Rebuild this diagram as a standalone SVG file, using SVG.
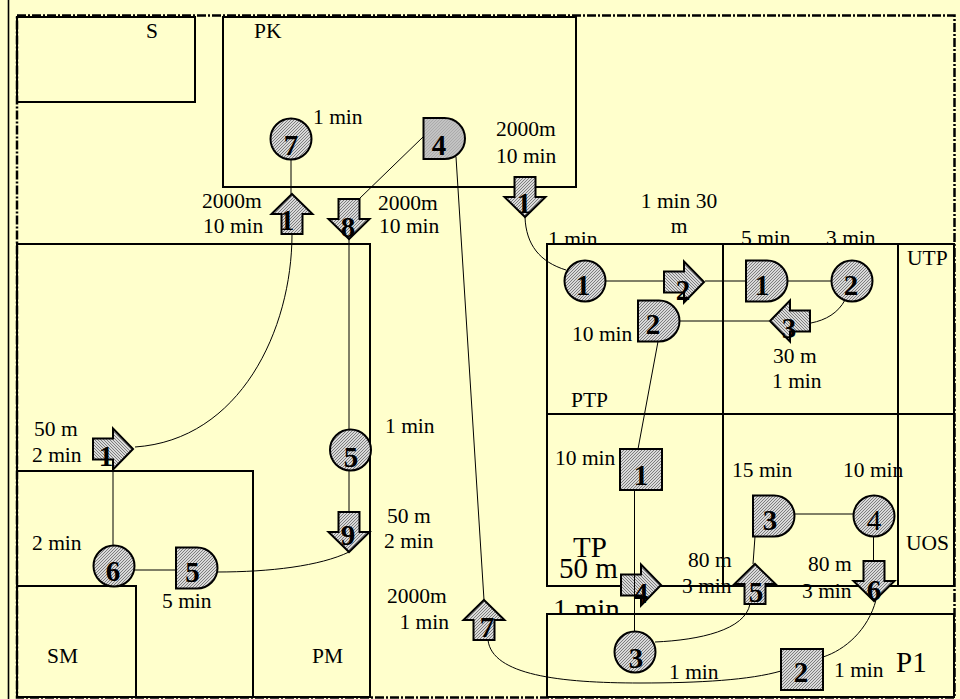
<svg xmlns="http://www.w3.org/2000/svg" width="960" height="699" viewBox="0 0 960 699">
<style>
.room{fill:#FFFFCC;stroke:#000;stroke-width:2}
.lbl{font-family:"Liberation Serif","Times New Roman",serif;font-size:21.5px;fill:#000}
.big{font-size:29px}
.mid{text-anchor:middle}
.end{text-anchor:end}
.num{font-family:"Liberation Serif","Times New Roman",serif;font-size:29px;font-weight:bold;text-anchor:middle;fill:#000}
.reg{font-weight:normal}
.shape{fill:url(#hatch);stroke:#000;stroke-width:2}
.conn path{fill:none;stroke:#000;stroke-width:1}
</style>
<defs>
<pattern id="hatch" width="3" height="3" patternUnits="userSpaceOnUse">
<rect width="3" height="3" fill="#d9d9d9"/>
<path d="M-1,1 L1,-1 M0,3 L3,0 M2,4 L4,2" stroke="#555" stroke-width="0.7"/>
</pattern>
<path id="arrow" d="M0,-20 L20.5,0 L10.5,0 L10.5,20 L-10.5,20 L-10.5,0 L-20.5,0 Z"/>
<path id="delay" d="M-21,-20.5 H0 A20.5,20.5 0 0 1 0,20.5 H-21 Z"/>
</defs>

<rect width="960" height="699" fill="#FFFFCC"/>
<line x1="8.5" y1="0" x2="8.5" y2="699" stroke="#000" stroke-width="1.6"/>

<g id="rooms">
<rect class="room" x="17" y="17" width="178" height="85"/>
<rect class="room" x="223" y="17" width="353" height="170"/>
<rect class="room" x="17" y="244" width="353" height="453"/>
<rect class="room" x="17" y="471" width="236" height="226"/>
<rect class="room" x="17" y="586" width="119" height="111"/>
<rect class="room" x="547" y="414" width="176" height="172"/>
<rect class="room" x="723" y="414" width="175" height="172"/>
<rect class="room" x="898" y="414" width="56" height="172"/>
</g>

<g id="hidden-labels" class="lbl">
<text x="548" y="246">1 min</text>
<text x="741" y="245">5 min</text>
<text x="826" y="245">3 min</text>
<text class="big" x="573" y="557">TP</text>
<text class="big" x="559" y="578">50 m</text>
<text class="big" x="553" y="619">1 min</text>
</g>

<g id="rooms-front">
<rect class="room" x="547" y="244" width="176" height="170"/>
<rect class="room" x="723" y="244" width="175" height="170"/>
<rect class="room" x="898" y="244" width="56" height="170"/>
<rect class="room" x="547" y="614" width="407" height="83"/>
</g>

<rect x="17" y="15.5" width="937.5" height="682" fill="none" stroke="#000" stroke-width="2.5" stroke-dasharray="9 2 2 2"/>

<g id="nodes">
<g id="c7"><circle class="shape" cx="291" cy="139" r="20.5"/><text class="num" x="291" y="155">7</text></g>
<g id="d4"><use href="#delay" class="shape" transform="translate(444.5,138.5)"/><text class="num" x="439" y="155">4</text></g>
<g id="a1up"><use href="#arrow" class="shape" transform="translate(292,214)"/><text class="num" x="287" y="230">1</text></g>
<g id="a8"><use href="#arrow" class="shape" transform="translate(349,219) rotate(180)"/><text class="num" x="348" y="237">8</text></g>
<g id="a1down"><use href="#arrow" class="shape" transform="translate(525,197) rotate(180)"/><text class="num" x="524" y="213">1</text></g>
<g id="c1"><circle class="shape" cx="585" cy="281" r="20.5"/><text class="num" x="583" y="295">1</text></g>
<g id="a2"><use href="#arrow" class="shape" transform="translate(684,282) rotate(90)"/><text class="num" x="683" y="300">2</text></g>
<g id="d1"><use href="#delay" class="shape" transform="translate(767,281)"/><text class="num" x="762" y="295">1</text></g>
<g id="c2"><circle class="shape" cx="852" cy="281" r="20.5"/><text class="num" x="851" y="295">2</text></g>
<g id="a3"><use href="#arrow" class="shape" transform="translate(790,321) rotate(-90)"/><text class="num" x="789" y="338">3</text></g>
<g id="d2"><use href="#delay" class="shape" transform="translate(659,321)"/><text class="num" x="653" y="334">2</text></g>
<g id="s1"><rect class="shape" x="620" y="449" width="42" height="41"/><text class="num" x="641" y="485">1</text></g>
<g id="a1right"><use href="#arrow" class="shape" transform="translate(113,449) rotate(90)"/><text class="num" x="106" y="466">1</text></g>
<g id="c5"><circle class="shape" cx="350.5" cy="450" r="20.5"/><text class="num" x="351" y="467">5</text></g>
<g id="a9"><use href="#arrow" class="shape" transform="translate(349,532) rotate(180)"/><text class="num" x="348" y="545">9</text></g>
<g id="c6"><circle class="shape" cx="114" cy="566" r="20.5"/><text class="num" x="113" y="581">6</text></g>
<g id="d5"><use href="#delay" class="shape" transform="translate(197,568)"/><text class="num" x="192.5" y="582">5</text></g>
<g id="a7"><use href="#arrow" class="shape" transform="translate(484,620)"/><text class="num" x="487" y="637">7</text></g>
<g id="a4"><use href="#arrow" class="shape" transform="translate(641,585) rotate(90)"/><text class="num" x="641" y="603">4</text></g>
<g id="c3"><circle class="shape" cx="635" cy="652" r="20.5"/><text class="num" x="636" y="668">3</text></g>
<g id="a5"><use href="#arrow" class="shape" transform="translate(755,584)"/><text class="num" x="756" y="602">5</text></g>
<g id="d3"><use href="#delay" class="shape" transform="translate(774,516)"/><text class="num" x="770" y="530">3</text></g>
<g id="c4"><circle class="shape" cx="874" cy="516" r="20.5"/><text class="num reg" x="874" y="530">4</text></g>
<g id="a6"><use href="#arrow" class="shape" transform="translate(874,581) rotate(180)"/><text class="num" x="874" y="600">6</text></g>
<g id="s2"><rect class="shape" x="781" y="649" width="42" height="41"/><text class="num" x="801" y="682">2</text></g>
</g>

<g id="connectors" class="conn">
<path d="M291,159.5 V194"/>
<path d="M292,234 C292,330 240,440 135,447"/>
<path d="M113,470 V545.5"/>
<path d="M134.5,570 H176"/>
<path d="M217,572 C270,572 320,566 349,552"/>
<path d="M349,239 V429.5"/>
<path d="M349,470.5 V512"/>
<path d="M423,137 L359,199"/>
<path d="M456,157 L484,600"/>
<path d="M488,640 C492,675 560,683 640,683 C700,683 750,680 781,671"/>
<path d="M525,217 C526,245 540,262 566,270"/>
<path d="M605.5,281 H663.5"/>
<path d="M705,281 H746"/>
<path d="M787.5,281 H831.5"/>
<path d="M845,300 C838,313 826,320 811,323"/>
<path d="M769,321 H679.5"/>
<path d="M658,341.5 L638,449"/>
<path d="M634.5,490 V631.5"/>
<path d="M655,642 C700,640 745,630 750,604"/>
<path d="M753,564 L755,536.5"/>
<path d="M794.5,514 H853.5"/>
<path d="M873.5,536.5 V561"/>
<path d="M876,600 C868,630 845,650 823,657"/>
</g>

<g id="labels" class="lbl">
<text x="146" y="38">S</text>
<text x="254" y="38">PK</text>
<text x="313" y="124">1 min</text>
<text x="202" y="208">2000m</text>
<text x="203" y="233">10 min</text>
<text x="378" y="210">2000m</text>
<text x="379" y="233">10 min</text>
<text x="496" y="136">2000m</text>
<text x="496" y="163">10 min</text>
<text class="mid" x="679" y="208">1 min 30</text>
<text class="mid" x="679" y="233">m</text>
<text x="907" y="265">UTP</text>
<text x="572" y="341">10 min</text>
<text x="773" y="363">30 m</text>
<text x="772" y="388">1 min</text>
<text x="571" y="407">PTP</text>
<text x="385" y="433">1 min</text>
<text x="555" y="465">10 min</text>
<text x="732" y="477">15 min</text>
<text x="843" y="477">10 min</text>
<text x="906" y="550">UOS</text>
<text x="34" y="436">50 m</text>
<text x="32" y="462">2 min</text>
<text x="32" y="550">2 min</text>
<text x="162" y="608">5 min</text>
<text x="47" y="663">SM</text>
<text x="312" y="663">PM</text>
<text x="387" y="523">50 m</text>
<text x="384" y="548">2 min</text>
<text x="387" y="603">2000m</text>
<text class="end" x="449" y="629">1 min</text>
<text x="688" y="567">80 m</text>
<text x="682" y="593">3 min</text>
<text x="808" y="571">80 m</text>
<text x="802" y="598">3 min</text>
<text x="669" y="679">1 min</text>
<text x="834" y="677">1 min</text>
<text class="big" x="896" y="672">P1</text>
</g>
</svg>
